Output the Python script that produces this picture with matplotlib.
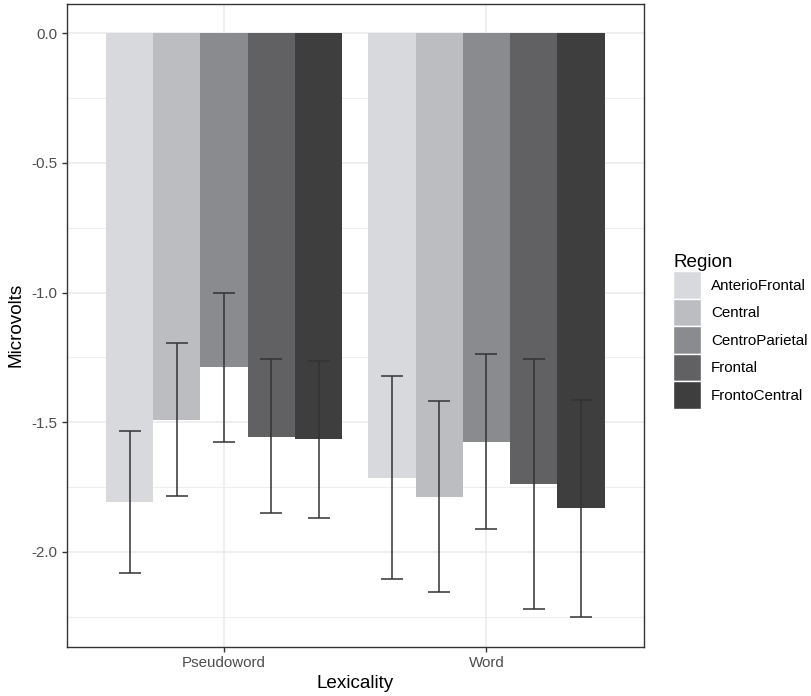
import numpy as np
import matplotlib
matplotlib.use("Agg")
import matplotlib.pyplot as plt
from matplotlib.patches import Patch

plt.rcParams['font.family'] = ['Liberation Sans', 'DejaVu Sans']

# values
lexicality = ["Pseudoword", "Word"]
regions = ["AnterioFrontal", "Central", "CentroParietal", "Frontal", "FrontoCentral"]
means = {
    "Pseudoword": [-1.806, -1.491, -1.288, -1.556, -1.565],
    "Word":       [-1.715, -1.787, -1.575, -1.739, -1.830],
}
lower = {
    "Pseudoword": [-2.082, -1.784, -1.577, -1.851, -1.868],
    "Word":       [-2.103, -2.153, -1.910, -2.221, -2.252],
}
upper = {
    "Pseudoword": [-1.535, -1.195, -1.003, -1.257, -1.264],
    "Word":       [-1.322, -1.417, -1.237, -1.257, -1.414],
}
fills = ["#D8D9DC", "#BCBDC1", "#8A8B8F", "#616164", "#3E3E3E"]

fig = plt.figure(figsize=(8.11, 6.96), dpi=100)
ax = fig.add_axes([0.0822, 0.0711, 0.7118, 0.9232])

n = len(regions)
dodge = 0.9
bw = dodge / n
x0 = np.arange(1, len(lexicality) + 1)

for j, reg in enumerate(regions):
    xs = x0 - dodge / 2 + bw * (j + 0.5)
    m = np.array([means[l][j] for l in lexicality])
    lo = np.array([lower[l][j] for l in lexicality])
    hi = np.array([upper[l][j] for l in lexicality])
    ax.bar(xs, m, width=bw, color=fills[j], zorder=2, label=reg)
    ax.errorbar(xs, (lo + hi) / 2, yerr=(hi - lo) / 2, fmt="none",
                ecolor="#333333", elinewidth=1.1, capsize=7.6,
                capthick=1.1, zorder=3)

# ggplot-like expansion
ymin = min(min(v) for v in lower.values())
ymax = 0.0
pad = 0.05 * (ymax - ymin)
ax.set_ylim(ymin - pad, ymax + pad)
ax.set_xlim(0.4, 2.6)

ax.set_xticks(x0)
ax.set_xticklabels(lexicality)
ax.set_yticks([0.0, -0.5, -1.0, -1.5, -2.0])
ax.set_yticklabels(["0.0", "-0.5", "-1.0", "-1.5", "-2.0"])
ax.set_yticks([-0.25, -0.75, -1.25, -1.75, -2.25], minor=True)

ax.grid(True, which="major", color="#EBEBEB", lw=1.1, zorder=0)
ax.grid(True, which="minor", axis="y", color="#EBEBEB", lw=0.6, zorder=0)
ax.set_axisbelow(True)

for s in ax.spines.values():
    s.set_color("#333333")
    s.set_linewidth(1.0)
ax.tick_params(which="major", length=3.5, width=1.0, color="#333333",
               labelcolor="#4D4D4D", labelsize=10.9, pad=3)
ax.tick_params(which="minor", length=0)

ax.set_xlabel("Lexicality", fontsize=13.6, color="black", labelpad=4)
ax.set_ylabel("Microvolts", fontsize=13.6, color="black", labelpad=5)

handles = [Patch(facecolor=c, edgecolor="white", linewidth=1.0) for c in fills]
leg = ax.legend(handles, regions, title="Region", loc="center left",
                bbox_to_anchor=(1.027, 0.49), frameon=False,
                fontsize=10.9, title_fontsize=13.6,
                handlelength=1.85, handleheight=2.42, labelspacing=0.0,
                handletextpad=0.65, borderaxespad=0.5)
leg._legend_box.align = "left"

fig.savefig("out.png", dpi=100)
